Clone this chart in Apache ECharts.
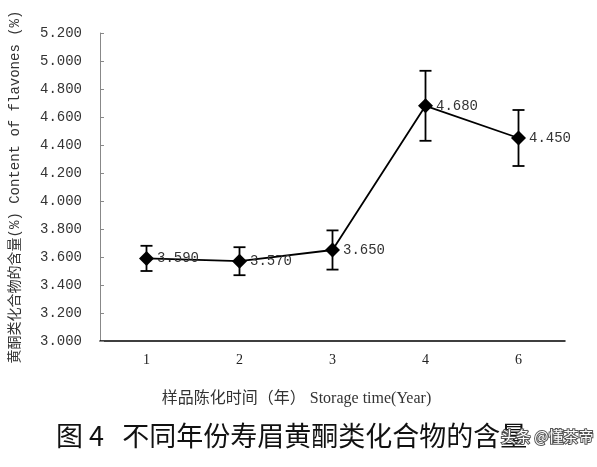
<!DOCTYPE html>
<html><head><meta charset="utf-8">
<script src="https://cdn.jsdelivr.net/npm/echarts@6/dist/echarts.min.js"></script>
<style>html,body{margin:0;padding:0;background:#fff}#c{width:597px;height:467px}</style>
</head><body><div id="c"></div>
<script>
var categories = ['1','2','3','4','6'];
var values = [3.59, 3.57, 3.65, 4.68, 4.45];
var errors = [0.09, 0.10, 0.14, 0.25, 0.20];
var yTicks = [3.0, 3.2, 3.4, 3.6, 3.8, 4.0, 4.2, 4.4, 4.6, 4.8, 5.0, 5.2];

var chart = echarts.init(document.getElementById('c'));
var serif = "'Liberation Serif','DejaVu Serif',serif";
var mono = "'Liberation Mono','DejaVu Sans Mono',monospace";
chart.setOption({
  animation: false,
  backgroundColor: '#fff',
  grid: {left: 96, right: 32, top: 33, bottom: 126},
  xAxis: {
    type: 'category', data: categories, boundaryGap: true,
    axisLine: {lineStyle: {color: '#000', width: 1.5}},
    axisTick: {inside: true, length: 3, lineStyle: {color: '#555'}},
    axisLabel: {color: '#222', fontFamily: serif, fontSize: 14, margin: 12},
    name: '样品陈化时间（年） Storage time(Year)',
    nameLocation: 'middle', nameGap: 50,
    nameTextStyle: {fontFamily: "'Liberation Serif','Noto Sans CJK SC',serif", fontSize: 16, color: '#333',
      padding: [0, 72, 0, 0]}
  },
  yAxis: {
    type: 'value', min: yTicks[0], max: yTicks[yTicks.length-1], interval: 0.2,
    axisLine: {show: true, lineStyle: {color: '#888', width: 1}},
    axisTick: {show: true, inside: true, length: 4, lineStyle: {color: '#888'}},
    splitLine: {show: false},
    axisLabel: {color: '#333', fontFamily: mono, fontSize: 14, margin: 18,
      formatter: function(v){ return v.toFixed(3); }},
    name: '黄酮类化合物的含量(%) Content of flavones (%)',
    nameLocation: 'middle', nameGap: 78, nameRotate: 90,
    nameTextStyle: {fontFamily: "'Liberation Mono','Noto Sans CJK SC',monospace", fontSize: 14, color: '#333'}
  },
  series: [
    {
      type: 'line', data: values,
      symbol: 'diamond', symbolSize: 15,
      lineStyle: {color: '#000', width: 1.8},
      itemStyle: {color: '#000'},
      label: {show: true, position: 'right', distance: 3, color: '#333',
        fontFamily: mono, fontSize: 14,
        formatter: function(p){ return p.value.toFixed(3); }},
      z: 3
    },
    {
      type: 'custom',
      data: values.map(function(v, i){ return [i, v - errors[i], v + errors[i]]; }),
      renderItem: function(params, api){
        var lo = api.coord([api.value(0), api.value(1)]);
        var hi = api.coord([api.value(0), api.value(2)]);
        var w = 6;
        var st = {stroke: '#000', lineWidth: 1.8};
        return {type: 'group', children: [
          {type: 'line', shape: {x1: lo[0], y1: lo[1], x2: hi[0], y2: hi[1]}, style: st},
          {type: 'line', shape: {x1: lo[0]-w, y1: lo[1], x2: lo[0]+w, y2: lo[1]}, style: st},
          {type: 'line', shape: {x1: hi[0]-w, y1: hi[1], x2: hi[0]+w, y2: hi[1]}, style: st}
        ]};
      },
      z: 2
    }
  ],
  graphic: [
    {type: 'text', left: 56, top: 422, style: {text: '图 4   不同年份寿眉黄酮类化合物的含量',
      font: "27px 'Noto Sans CJK SC'", fill: '#111'}},
    {type: 'text', left: 500, top: 428, style: {text: '头条 @懂茶帝',
      font: "15px 'Noto Sans CJK SC'", fill: '#fff', stroke: '#555', lineWidth: 2}}
  ]
});
</script></body></html>
